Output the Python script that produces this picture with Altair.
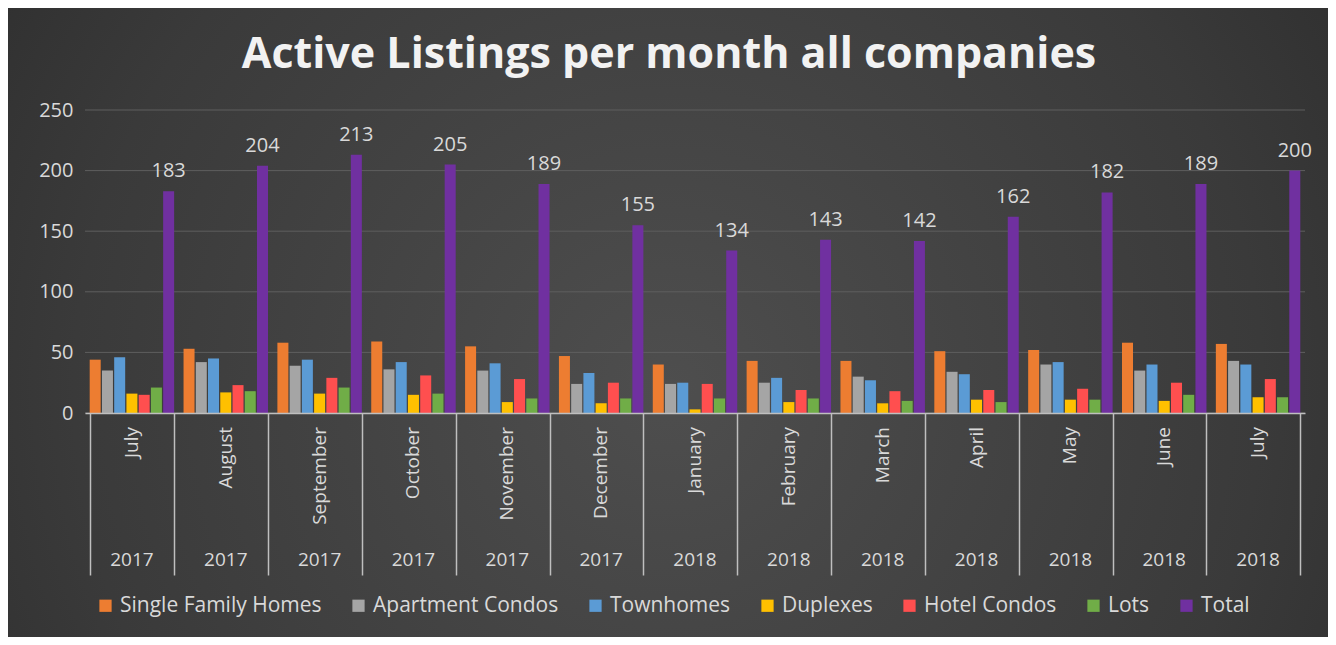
import altair as alt
import pandas as pd

title_text = ["Active Listings per month all companies"]
months = ["July", "August", "September", "October", "November", "December",
          "January", "February", "March", "April", "May", "June", "July"]
years = ["2017"] * 6 + ["2018"] * 7
series = ["Single Family Homes", "Apartment Condos", "Townhomes", "Duplexes",
          "Hotel Condos", "Lots", "Total"]
colors = ["#ED7D31", "#A5A5A5", "#5B9BD5", "#FFC000", "#FF4F4F", "#70AD47", "#7030A0"]
y_ticks = [0, 50, 100, 150, 200, 250]

single_family = [44, 53, 58, 59, 55, 47, 40, 43, 43, 51, 52, 58, 57]
apartment = [35, 42, 39, 36, 35, 24, 24, 25, 30, 34, 40, 35, 43]
townhomes = [46, 45, 44, 42, 41, 33, 25, 29, 27, 32, 42, 40, 40]
duplexes = [16, 17, 16, 15, 9, 8, 3, 9, 8, 11, 11, 10, 13]
hotel_condos = [15, 23, 29, 31, 28, 25, 24, 19, 18, 19, 20, 25, 28]
lots = [21, 18, 21, 16, 12, 12, 12, 12, 10, 9, 11, 15, 13]
total = [183, 204, 213, 205, 189, 155, 134, 143, 142, 162, 182, 189, 200]

values_by_series = [single_family, apartment, townhomes, duplexes, hotel_condos, lots, total]
periods = [f"{m} {y}" for m, y in zip(months, years)]

rows = []
for s, vals in zip(series, values_by_series):
    for p, v in zip(periods, vals):
        rows.append({"period": p, "series": s, "value": v})
df = pd.DataFrame(rows)
cats = pd.DataFrame({"period": periods, "month": months, "year": years})
grid_df = pd.DataFrame({"tick": y_ticks})
title_df = pd.DataFrame({"title": title_text})

FONT = "Open Sans"
LIGHT = "#d9d9d9"
W, H = 1220, 303
PAD = {"left": 77, "top": 102, "right": 23, "bottom": 224}

# radial gradient backdrop covering the whole chart
backdrop = alt.Chart(pd.DataFrame({"k": [0]})).mark_rect(
    color=alt.Gradient(gradient="radial", x1=0.5, y1=0.55, r1=0.0,
                       x2=0.5, y2=0.55, r2=0.75,
                       stops=[alt.GradientStop(color="#4e4e4e", offset=0),
                              alt.GradientStop(color="#3a3a3a", offset=0.6),
                              alt.GradientStop(color="#262626", offset=1)])
).encode(
    x=alt.value(-PAD["left"]), x2=alt.value(W + PAD["right"]),
    y=alt.value(-PAD["top"]), y2=alt.value(H + PAD["bottom"]),
)

title_mark = alt.Chart(title_df).mark_text(
    font=FONT, fontSize=43, fontWeight="bold", color="#f2f2f2",
    align="center", baseline="alphabetic"
).encode(
    x=alt.value(W / 2 - 26), y=alt.value(-42), text="title:N",
)

y_scale = alt.Scale(domain=[0, 250], nice=False)

gridlines = alt.Chart(grid_df).mark_rule(color="#5e5e5e", strokeWidth=1).encode(
    y=alt.Y("tick:Q", scale=y_scale),
    x=alt.value(0), x2=alt.value(W),
)

x_enc = alt.X("period:N", sort=periods,
              scale=alt.Scale(paddingInner=0.1, paddingOuter=0.05),
              axis=alt.Axis(labels=False, title=None, tickBand="extent",
                            tickSize=162, tickColor="#bfbfbf", tickWidth=1.5,
                            domainColor="#bfbfbf", domainWidth=1.5, zindex=2))
xoff = alt.XOffset("series:N", sort=series, scale=alt.Scale(paddingInner=0.1))

bars = alt.Chart(df).mark_bar().encode(
    x=x_enc,
    xOffset=xoff,
    y=alt.Y("value:Q", scale=y_scale,
            axis=alt.Axis(values=y_ticks, title=None, grid=False,
                          domain=False, ticks=False, zindex=2,
                          labelColor=LIGHT, labelFontSize=20, labelFont=FONT,
                          labelPadding=12)),
    color=alt.Color("series:N", sort=series,
                    scale=alt.Scale(domain=series, range=colors),
                    legend=alt.Legend(orient="none", legendX=10, legendY=485,
                                      direction="horizontal", title=None,
                                      symbolType="square", symbolSize=150,
                                      symbolStrokeWidth=0, labelFontSize=21,
                                      labelFont=FONT, labelColor=LIGHT,
                                      labelLimit=0, columnPadding=26,
                                      labelOffset=4, zindex=2)),
)

total_labels = alt.Chart(df).transform_filter(
    alt.datum.series == "Total"
).mark_text(baseline="bottom", dy=-10, fontSize=20, font=FONT, color=LIGHT).encode(
    x=alt.X("period:N", sort=periods),
    xOffset=xoff,
    y="value:Q",
    text="value:Q",
)

month_labels = alt.Chart(cats).mark_text(
    angle=270, align="right", baseline="middle", fontSize=19, font=FONT, color=LIGHT
).encode(
    x=alt.X("period:N", sort=periods),
    y=alt.value(H + 14),
    text="month:N",
)

year_labels = alt.Chart(cats).mark_text(
    baseline="middle", fontSize=19, font=FONT, color=LIGHT
).encode(
    x=alt.X("period:N", sort=periods),
    y=alt.value(H + 147),
    text="year:N",
)

chart = alt.layer(backdrop, title_mark, gridlines, bars, total_labels,
                  month_labels, year_labels).properties(
    width=W, height=H,
    autosize=alt.AutoSizeParams(type="none"),
    padding=PAD,
).configure(background="#2e2e2e").configure_view(stroke=None)

chart.save("out.html", embed_options={"renderer": "svg", "actions": False})
